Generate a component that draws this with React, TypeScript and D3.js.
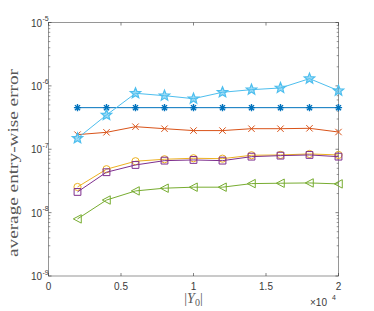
import React from "react";
import * as d3 from "d3";

const xValues = [2000, 4000, 6000, 8000, 10000, 12000, 14000, 16000, 18000, 20000];
const seriesAsterisk = [4.53e-7, 4.53e-7, 4.53e-7, 4.53e-7, 4.53e-7, 4.53e-7, 4.53e-7, 4.53e-7, 4.53e-7, 4.53e-7];
const seriesCross = [1.70e-7, 1.85e-7, 2.27e-7, 2.11e-7, 1.97e-7, 1.97e-7, 2.11e-7, 2.11e-7, 2.14e-7, 1.87e-7];
const seriesCircle = [2.54e-8, 4.84e-8, 6.47e-8, 6.95e-8, 7.21e-8, 7.1e-8, 8.04e-8, 8.13e-8, 8.43e-8, 8.13e-8];
const seriesSquare = [2.12e-8, 4.34e-8, 5.65e-8, 6.61e-8, 6.78e-8, 6.61e-8, 7.64e-8, 7.93e-8, 8.13e-8, 7.64e-8];
const seriesTriangle = [7.96e-9, 1.58e-8, 2.2e-8, 2.43e-8, 2.52e-8, 2.52e-8, 2.87e-8, 2.91e-8, 2.94e-8, 2.84e-8];
const seriesStar = [1.49e-7, 3.47e-7, 7.64e-7, 7.0e-7, 6.28e-7, 7.93e-7, 8.71e-7, 9.27e-7, 1.30e-6, 8.40e-7];

const xTicks = [0, 5000, 10000, 15000, 20000];
const xTickLabels = ["0", "0.5", "1", "1.5", "2"];
const yTickExponents = [-9, -8, -7, -6, -5];

type Marker = "asterisk" | "cross" | "circle" | "square" | "triangleLeft" | "pentagram";

const series: { values: number[]; color: string; marker: Marker }[] = [
  { values: seriesTriangle, color: "#77AC30", marker: "triangleLeft" },
  { values: seriesCircle, color: "#EDB120", marker: "circle" },
  { values: seriesSquare, color: "#7E2F8E", marker: "square" },
  { values: seriesCross, color: "#D95319", marker: "cross" },
  { values: seriesAsterisk, color: "#0072BD", marker: "asterisk" },
  { values: seriesStar, color: "#4DBEEE", marker: "pentagram" },
];

function markerPath(m: Marker): string {
  switch (m) {
    case "asterisk": {
      const r = 3.6;
      const p: string[] = [];
      for (let i = 0; i < 4; i++) {
        const a = (i * Math.PI) / 4;
        p.push(`M${-r * Math.cos(a)},${-r * Math.sin(a)}L${r * Math.cos(a)},${r * Math.sin(a)}`);
      }
      return p.join("");
    }
    case "cross": {
      const r = 3.2;
      return `M${-r},${-r}L${r},${r}M${-r},${r}L${r},${-r}`;
    }
    case "circle": {
      const r = 3.6;
      return `M${r},0A${r},${r} 0 1,1 ${-r},0A${r},${r} 0 1,1 ${r},0Z`;
    }
    case "square": {
      const r = 3.4;
      return `M${-r},${-r}H${r}V${r}H${-r}Z`;
    }
    case "triangleLeft": {
      const r = 4.2;
      return `M${-r},0L${r * 0.9},${-r}L${r * 0.9},${r}Z`;
    }
    case "pentagram": {
      const R = 5.5, ri = 2.4;
      const pts: string[] = [];
      for (let i = 0; i < 10; i++) {
        const rad = i % 2 === 0 ? R : ri;
        const a = -Math.PI / 2 + (i * Math.PI) / 5;
        pts.push(`${rad * Math.cos(a)},${rad * Math.sin(a)}`);
      }
      return "M" + pts.join("L") + "Z";
    }
  }
}

export default function App() {
  const W = 374, H = 311;
  const left = 48.5, right = 338.5, top = 22.5, bottom = 276;
  const x = d3.scaleLinear().domain([0, 20000]).range([left, right]);
  const y = d3.scaleLog().domain([1e-9, 1e-5]).range([bottom, top]);
  const line = d3.line<[number, number]>().x((d) => x(d[0])).y((d) => y(d[1]));
  const tickColor = "#3a3a3a";
  const labelColor = "#595959";
  const axisColor = "#333333";
  const tl = 3;

  const minorTicks: number[] = [];
  for (let e = -9; e < -5; e++) {
    for (let k = 2; k <= 9; k++) minorTicks.push(k * Math.pow(10, e));
  }

  return (
    <svg width={W} height={H} style={{ position: "absolute", left: 0, top: 0, background: "#fff" }}>
      <rect x={left} y={top} width={right - left} height={bottom - top} fill="none" stroke={axisColor} strokeWidth={0.6} opacity={0.85} />
      {xTicks.map((t, i) => (
        <g key={"xt" + i}>
          <line x1={x(t)} x2={x(t)} y1={bottom} y2={bottom - tl} stroke={axisColor} strokeWidth={0.6} />
          <line x1={x(t)} x2={x(t)} y1={top} y2={top + tl} stroke={axisColor} strokeWidth={0.6} />
          <text x={x(t)} y={290} textAnchor="middle" fontFamily="'Liberation Sans', Arial, sans-serif" fontSize={10} fill={tickColor}>
            {xTickLabels[i]}
          </text>
        </g>
      ))}
      {yTickExponents.map((e) => {
        const yy = y(Math.pow(10, e));
        return (
          <g key={"yt" + e}>
            <line x1={left} x2={left + tl} y1={yy} y2={yy} stroke={axisColor} strokeWidth={0.6} />
            <line x1={right} x2={right - tl} y1={yy} y2={yy} stroke={axisColor} strokeWidth={0.6} />
            <text x={42} y={yy + 4} textAnchor="end" fontFamily="'Liberation Sans', Arial, sans-serif" fontSize={10} fill={tickColor}>
              10
            </text>
            <text x={42.5} y={yy - 1.5} textAnchor="start" fontFamily="'Liberation Sans', Arial, sans-serif" fontSize={7} fill={tickColor}>
              {"-" + String(-e)}
            </text>
          </g>
        );
      })}
      {minorTicks.map((v, i) => (
        <g key={"ym" + i}>
          <line x1={left} x2={left + 1.8} y1={y(v)} y2={y(v)} stroke={axisColor} strokeWidth={0.5} />
          <line x1={right} x2={right - 1.8} y1={y(v)} y2={y(v)} stroke={axisColor} strokeWidth={0.5} />
        </g>
      ))}
      {series.map((s, si) => {
        const pts = xValues.map((xv, i) => [xv, s.values[i]] as [number, number]);
        const mp = markerPath(s.marker);
        const isStar = s.marker === "pentagram";
        return (
          <g key={"s" + si}>
            <path d={line(pts) || ""} fill="none" stroke={s.color} strokeWidth={1} />
            {pts.map((p, i) => (
              <path
                key={i}
                d={mp}
                transform={`translate(${x(p[0])},${y(p[1])})`}
                fill={isStar ? s.color : "none"}
                fillOpacity={isStar ? 0.55 : 0}
                stroke={s.color}
                strokeWidth={s.marker === "asterisk" ? 1.4 : isStar ? 1.2 : 1}
              />
            ))}
          </g>
        );
      })}
      <text
        transform={`translate(18,163) rotate(-90)`}
        textAnchor="middle"
        fontFamily="'Liberation Serif', 'DejaVu Serif', serif"
        fontSize={14.5}
        fill={labelColor}
        textLength={188}
        lengthAdjust="spacingAndGlyphs"
      >
        average entry-wise error
      </text>
      <text x={193.5} y={303} textAnchor="middle" fontFamily="'Liberation Serif', 'DejaVu Serif', serif" fontSize={14} fill={labelColor}>
        <tspan>|</tspan>
        <tspan fontStyle="italic">Y</tspan>
        <tspan fontSize={10} dy={3}>0</tspan>
        <tspan dy={-3}>|</tspan>
      </text>
      <text x={310} y={306} fontFamily="'Liberation Sans', Arial, sans-serif" fontSize={10} fill={tickColor}>
        ×10
      </text>
      <text x={332} y={300} fontFamily="'Liberation Sans', Arial, sans-serif" fontSize={7} fill={tickColor}>
        4
      </text>
    </svg>
  );
}
